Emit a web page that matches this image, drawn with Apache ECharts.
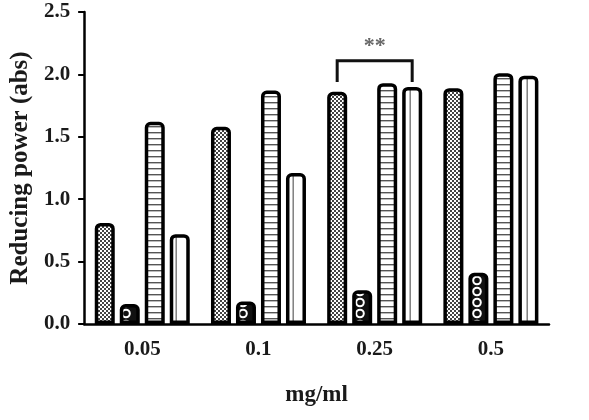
<!DOCTYPE html>
<html>
<head>
<meta charset="utf-8">
<script src="https://cdn.jsdelivr.net/npm/echarts@6/dist/echarts.min.js"></script>
<style>
  html, body { margin: 0; padding: 0; background: #fff; }
  #chart { width: 589px; height: 420px; }
</style>
</head>
<body>
<div id="chart"></div>
<script>
// 浓度分类与各组数值
const doses = ['0.05', '0.1', '0.25', '0.5'];
const groupA = [0.81, 1.58, 1.86, 1.89];
const groupB = [0.16, 0.18, 0.27, 0.41];
const groupC = [1.62, 1.87, 1.93, 2.01];
const groupD = [0.72, 1.21, 1.90, 1.99];
const yTicks = [0, 0.5, 1.0, 1.5, 2.0, 2.5];

const BAR_W = 20;
const BAR_GAP = 5;
const FONT = '"Liberation Serif", "DejaVu Serif", serif';

// 生成填充图案
function makeTile(w, h, draw) {
  const c = document.createElement('canvas');
  c.width = w; c.height = h;
  draw(c.getContext('2d'));
  return { image: c, repeat: 'repeat' };
}

const checker = makeTile(4, 4, function (ctx) {
  ctx.fillStyle = '#fff'; ctx.fillRect(0, 0, 4, 4);
  ctx.fillStyle = '#444';
  ctx.fillRect(0, 0, 2, 2);
  ctx.fillRect(2, 2, 2, 2);
});

// 黑底白圈：每根柱子中间一列（类目宽 117px）
const rings = makeTile(117, 11, function (ctx) {
  ctx.fillStyle = '#111'; ctx.fillRect(0, 0, 117, 11);
  ctx.strokeStyle = '#fff'; ctx.lineWidth = 2;
  ctx.beginPath(); ctx.arc(9, 5.5, 3.8, 0, Math.PI * 2); ctx.stroke();
});

const hLines = makeTile(6, 6, function (ctx) {
  ctx.fillStyle = '#fff'; ctx.fillRect(0, 0, 6, 6);
  ctx.fillStyle = '#555'; ctx.fillRect(0, 0, 6, 1.4);
});

// 竖线图案：一条线落在每组第四根柱子中间
const vLine = makeTile(117, 8, function (ctx) {
  ctx.fillStyle = '#fff'; ctx.fillRect(0, 0, 117, 8);
  ctx.fillStyle = '#777'; ctx.fillRect(58.5, 0, 1.4, 8);
});

function barSeries(name, data, fill) {
  return {
    name: name,
    type: 'bar',
    data: data,
    barWidth: BAR_W,
    barGap: (BAR_GAP / BAR_W * 100).toFixed(1) + '%',
    itemStyle: {
      color: fill,
      borderColor: '#000',
      borderWidth: 3.5,
      borderRadius: [4, 4, 0, 0]
    },
    emphasis: { disabled: true }
  };
}

const chart = echarts.init(document.getElementById('chart'));

const option = {
  backgroundColor: '#fff',
  animation: false,
  grid: { left: 81, right: 40, top: 12, bottom: 96 },
  xAxis: {
    type: 'category',
    data: doses,
    name: 'mg/ml',
    nameLocation: 'middle',
    nameGap: 60,
    nameTextStyle: { fontFamily: FONT, fontWeight: 'bold', fontSize: 23, color: '#1a1a1a' },
    axisLine: { lineStyle: { color: '#000', width: 2.5 } },
    axisTick: { alignWithLabel: true, length: 6, lineStyle: { color: '#000', width: 2 } },
    axisLabel: { fontFamily: FONT, fontWeight: 'bold', fontSize: 21, color: '#1a1a1a', margin: 15 }
  },
  yAxis: {
    type: 'value',
    min: 0,
    max: 2.5,
    interval: 0.5,
    name: 'Reducing power (abs)',
    nameLocation: 'middle',
    nameGap: 51,
    nameRotate: 90,
    nameTextStyle: { fontFamily: FONT, fontWeight: 'bold', fontSize: 25, color: '#1a1a1a' },
    splitLine: { show: false },
    axisLine: { show: true, lineStyle: { color: '#000', width: 2.5 } },
    axisTick: { show: true, length: 6, lineStyle: { color: '#000', width: 2 } },
    axisLabel: {
      fontFamily: FONT, fontWeight: 'bold', fontSize: 21, color: '#1a1a1a', margin: 14,
      formatter: function (v) { return yTicks.indexOf(v) >= 0 ? v.toFixed(1) : ''; }
    }
  },
  series: [
    barSeries('A', groupA, checker),
    barSeries('B', groupB, rings),
    barSeries('C', groupC, hLines),
    barSeries('D', groupD, vLine)
  ]
};

chart.setOption(option);

// 显著性标记：0.25 组第一根与第四根柱子之间
const sigIdx = doses.indexOf('0.25');
const center = chart.convertToPixel({ xAxisIndex: 0 }, sigIdx);
const offset = (4 * BAR_W + 3 * BAR_GAP) / 2 - BAR_W / 2;
const yTop = chart.convertToPixel({ yAxisIndex: 0 }, 2.11);
const yLeg = chart.convertToPixel({ yAxisIndex: 0 }, 1.94);
const x1 = center - offset, x2 = center + offset;

chart.setOption({
  graphic: [
    {
      type: 'polyline',
      shape: { points: [[x1, yLeg], [x1, yTop], [x2, yTop], [x2, yLeg]] },
      style: { stroke: '#111', lineWidth: 3, fill: null }
    },
    {
      type: 'text',
      x: (x1 + x2) / 2,
      y: yTop - 3,
      style: {
        text: '**',
        fontFamily: FONT,
        fontWeight: 'bold',
        fontSize: 22,
        fill: '#666',
        align: 'center',
        verticalAlign: 'bottom'
      }
    }
  ]
});
</script>
</body>
</html>
